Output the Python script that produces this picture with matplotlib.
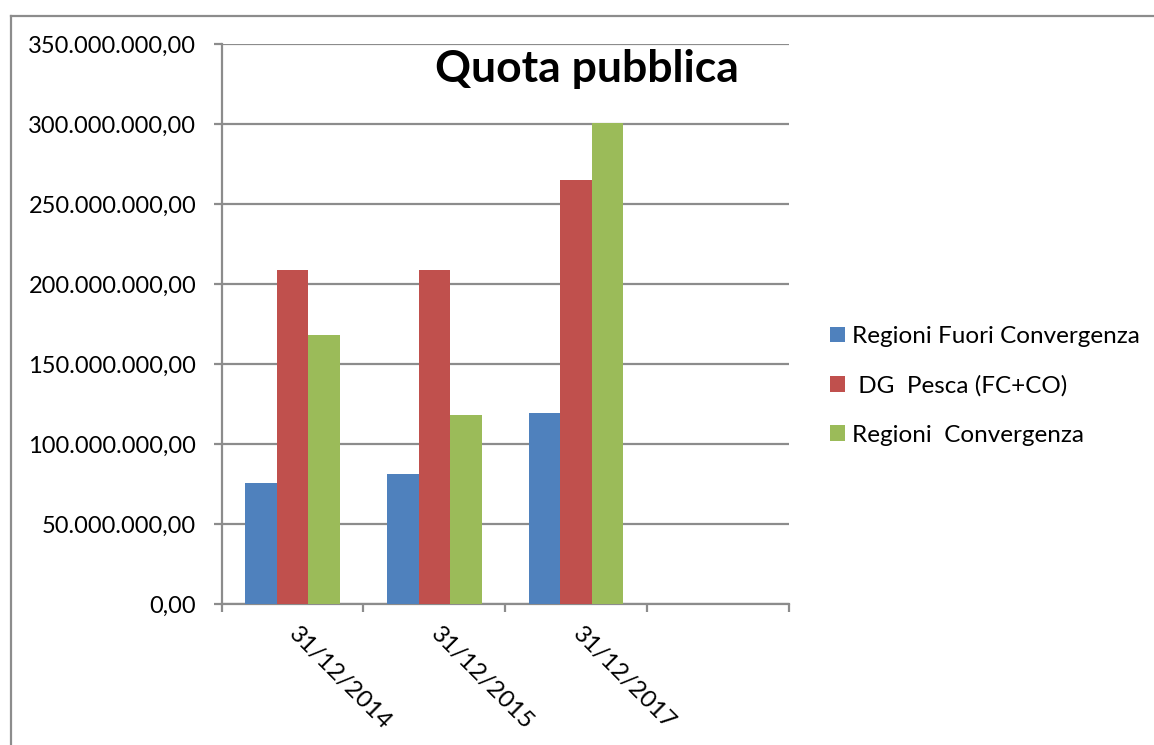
import matplotlib
matplotlib.use("Agg")
import matplotlib.pyplot as plt
from matplotlib.ticker import FixedLocator, FuncFormatter
from matplotlib.patches import Patch
from matplotlib.lines import Line2D
import numpy as np

# Public share by reference date (EUR)
dates = ["31/12/2014", "31/12/2015", "31/12/2017"]
series_names = ["Regioni Fuori Convergenza", " DG  Pesca (FC+CO)", "Regioni  Convergenza"]
fuori_convergenza = [75_600_000, 81_400_000, 119_400_000]
dg_pesca = [209_100_000, 209_100_000, 265_200_000]
convergenza = [168_300_000, 118_500_000, 301_000_000]
y_ticks = [0, 50_000_000, 100_000_000, 150_000_000, 200_000_000, 250_000_000,
           300_000_000, 350_000_000]

colors = ["#4F81BD", "#C0504D", "#9BBB59"]
grid_color = "#8C8C8C"
FONT = "Lato"

W, H = 1154, 745
fig = plt.figure(figsize=(W / 100, H / 100), dpi=100)
fig.patch.set_facecolor("white")

# outer chart frame (top and left edges)
fig.add_artist(Line2D([10.5 / W, 10.5 / W], [0, 1 - 15.5 / H],
                      transform=fig.transFigure, color="#8C8C8C", lw=1.6))
fig.add_artist(Line2D([10.5 / W, 1], [1 - 15.5 / H, 1 - 15.5 / H],
                      transform=fig.transFigure, color="#8C8C8C", lw=1.6))

left, right, top, bottom = 221.7, 788.8, 44.3, 604.3
ax = fig.add_axes([left / W, 1 - bottom / H, (right - left) / W, (bottom - top) / H])

n_slots = 4  # one empty category slot after the last date
series = [fuori_convergenza, dg_pesca, convergenza]
bar_w = 1 / 4.5
x = np.arange(len(dates)) + 0.5
for i, (vals, col, name) in enumerate(zip(series, colors, series_names)):
    ax.bar(x + (i - 1) * bar_w, vals, width=bar_w, color=col, label=name,
           linewidth=0, zorder=3)

ax.set_xlim(0, n_slots)
ax.set_ylim(0, 350_000_000)

ax.yaxis.set_major_locator(FixedLocator(y_ticks))


def it_format(v, pos=None):
    s = f"{v:,.2f}"
    return s.replace(",", "X").replace(".", ",").replace("X", ".")


ax.yaxis.set_major_formatter(FuncFormatter(it_format))
ax.grid(axis="y", color=grid_color, lw=1.6, zorder=1)
ax.set_axisbelow(True)

# category boundaries carry the tick marks, centres carry the labels
ax.xaxis.set_major_locator(FixedLocator(np.arange(n_slots + 1)))
ax.xaxis.set_major_formatter(FuncFormatter(lambda v, p: ""))
ax.xaxis.set_minor_locator(FixedLocator(x))
ax.set_xticklabels(dates, minor=True)
ax.tick_params(axis="x", which="major", direction="out", length=5.8,
               width=1.6, color=grid_color)
ax.tick_params(axis="x", which="minor", length=0, pad=19)
ax.tick_params(axis="y", direction="out", length=5.8, width=1.6,
               color=grid_color, pad=12.5)

for lab in ax.get_xticklabels(minor=True):
    lab.set_rotation(-45)
    lab.set_rotation_mode("anchor")
    lab.set_ha("left")
    lab.set_va("center")
    lab.set_fontfamily(FONT)
    lab.set_fontsize(17.5)
for lab in ax.get_yticklabels():
    lab.set_fontfamily(FONT)
    lab.set_fontsize(17)

for s in ["top", "right"]:
    ax.spines[s].set_visible(False)
for s in ["left", "bottom"]:
    ax.spines[s].set_color(grid_color)
    ax.spines[s].set_linewidth(1.6)

fig.text(587 / W, 1 - 69 / H, "Quota pubblica", ha="center", va="center",
         fontsize=32, fontweight="bold", fontfamily=FONT)

handles = [Patch(facecolor=c, edgecolor="none") for c in colors]
fig.legend(handles, series_names, loc="upper left",
           bbox_to_anchor=(830 / W, 1 - 326 / H), frameon=False,
           prop={"family": FONT, "size": 17.5}, handlelength=0.62,
           handleheight=0.62, handletextpad=0.3, labelspacing=1.16,
           borderaxespad=0, borderpad=0)

fig.savefig("out.png", dpi=100, facecolor="white")
